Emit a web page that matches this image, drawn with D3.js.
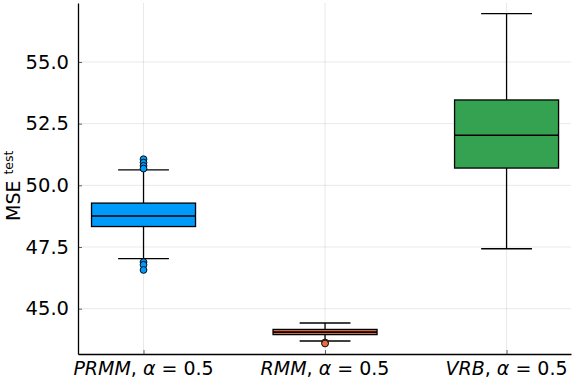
<!DOCTYPE html>
<html>
<head>
<meta charset="utf-8">
<script src="https://cdn.jsdelivr.net/npm/d3@7"></script>
<style>
  html, body { margin: 0; padding: 0; background: #fff; }
  svg { display: block; font-family: "DejaVu Sans", sans-serif; }
</style>
</head>
<body>
<svg id="chart" width="576" height="384"></svg>
<script>
// ---- data ----
const categories = ["PRMM", "RMM", "VRB"];
const alphaLabel = "0.5";
const q1 = [48.33, 43.95, 50.70];
const medians = [48.76, 44.05, 52.03];
const q3 = [49.28, 44.16, 53.46];
const whiskerLow = [47.03, 43.69, 47.43];
const whiskerHigh = [50.63, 44.42, 56.96];
const outliers = [
  [51.06, 50.92, 50.79, 50.68, 46.89, 46.78, 46.57],
  [43.63, 43.59],
  []
];
const yTicks = [45.0, 47.5, 50.0, 52.5, 55.0];
const colors = ["#009AFA", "#E36F47", "#35A251"];

// ---- layout ----
const svg = d3.select("#chart");
const mLeft = 78, mRight = 571, mTop = 3, mBottom = 354;

const x = d3.scaleLinear().domain([0.139, 2.855]).range([mLeft, mRight]);
const y = d3.scaleLinear().domain([43.164, 57.39]).range([mBottom, mTop]);
const catPos = categories.map((c, i) => i + 0.5);
const boxHalf = 0.2865, whiskHalf = 0.14;

// grid
const grid = svg.append("g").attr("stroke", "#000").attr("stroke-opacity", 0.09).attr("stroke-width", 1);
yTicks.forEach(t => grid.append("line")
  .attr("x1", mLeft).attr("x2", mRight).attr("y1", y(t)).attr("y2", y(t)));
catPos.forEach(p => grid.append("line")
  .attr("x1", x(p)).attr("x2", x(p)).attr("y1", mTop).attr("y2", mBottom));

// axes
const yAxis = d3.axisLeft(y).tickValues(yTicks).tickFormat(d3.format(".1f")).tickSizeInner(-4).tickSizeOuter(0).tickPadding(9);
const gy = svg.append("g").attr("transform", `translate(${mLeft},0)`).call(yAxis);
gy.select(".domain").attr("stroke", "#000").attr("stroke-width", 1.3);
gy.selectAll(".tick line").attr("stroke", "#000").attr("stroke-opacity", 0.6);
gy.selectAll(".tick text").attr("font-size", 19.5).attr("fill", "#000").attr("font-family", "DejaVu Sans");

const xAxis = d3.axisBottom(x).tickValues(catPos).tickFormat(() => "").tickSizeInner(-4).tickSizeOuter(0);
const gx = svg.append("g").attr("transform", `translate(0,${mBottom})`).call(xAxis);
gx.select(".domain").attr("stroke", "#000").attr("stroke-width", 1.3);
gx.selectAll(".tick line").attr("stroke", "#000").attr("stroke-opacity", 0.6);

// x labels with math style
categories.forEach((c, i) => {
  const t = svg.append("text")
    .attr("x", x(catPos[i])).attr("y", 375)
    .attr("text-anchor", "middle").attr("font-size", 19).attr("fill", "#000");
  t.append("tspan").attr("font-style", "italic").text(c);
  t.append("tspan").text(", ");
  t.append("tspan").attr("font-style", "italic").text("α");
  t.append("tspan").text(" = " + alphaLabel);
});

// y label
const yl = svg.append("text")
  .attr("transform", "translate(19.5,221) rotate(-90)")
  .attr("text-anchor", "start").attr("font-size", 19).attr("fill", "#000");
yl.append("tspan").text("MSE");
yl.append("tspan").attr("dx", 6).attr("dy", -6.5).attr("font-size", 12.5).text("test");

// boxes
const g = svg.append("g");
categories.forEach((c, i) => {
  const p = catPos[i];
  g.append("line").attr("x1", x(p)).attr("x2", x(p))
    .attr("y1", y(q3[i])).attr("y2", y(whiskerHigh[i]))
    .attr("stroke", "#000").attr("stroke-width", 1.3);
  g.append("line").attr("x1", x(p)).attr("x2", x(p))
    .attr("y1", y(q1[i])).attr("y2", y(whiskerLow[i]))
    .attr("stroke", "#000").attr("stroke-width", 1.3);
  [whiskerHigh[i], whiskerLow[i]].forEach(w => g.append("line")
    .attr("x1", x(p - whiskHalf)).attr("x2", x(p + whiskHalf))
    .attr("y1", y(w)).attr("y2", y(w))
    .attr("stroke", "#000").attr("stroke-width", 1.3));
  g.append("rect")
    .attr("x", x(p - boxHalf)).attr("width", x(p + boxHalf) - x(p - boxHalf))
    .attr("y", y(q3[i])).attr("height", y(q1[i]) - y(q3[i]))
    .attr("fill", colors[i]).attr("stroke", "#000").attr("stroke-width", 1.3);
  g.append("line")
    .attr("x1", x(p - boxHalf)).attr("x2", x(p + boxHalf))
    .attr("y1", y(medians[i])).attr("y2", y(medians[i]))
    .attr("stroke", "#000").attr("stroke-width", 1.6);
  outliers[i].forEach(o => g.append("circle")
    .attr("cx", x(p)).attr("cy", y(o)).attr("r", 3.4)
    .attr("fill", colors[i]).attr("stroke", "#000").attr("stroke-width", 0.9));
});
</script>
</body>
</html>
